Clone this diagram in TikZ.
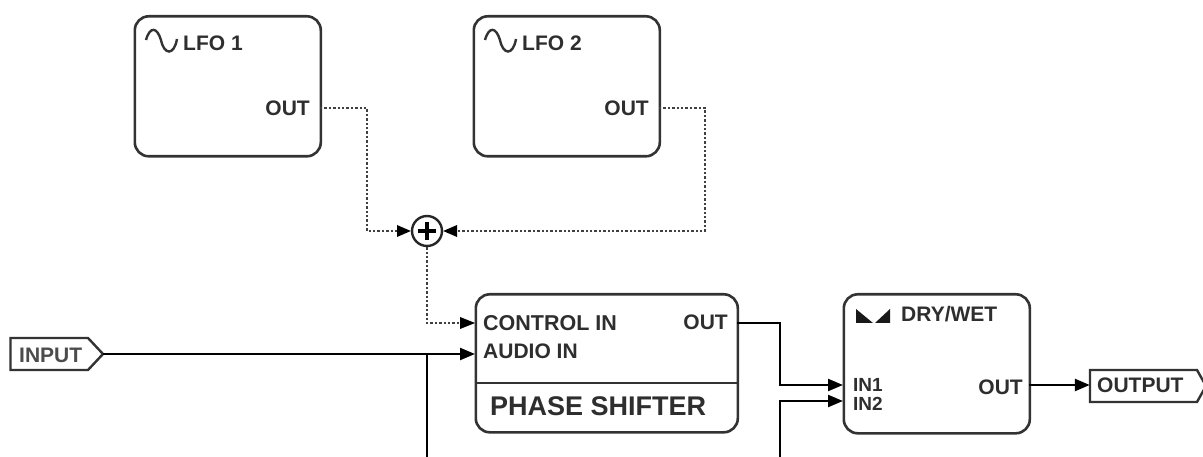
\documentclass[tikz,border=0pt]{standalone}
\usepackage{fontspec}
\setmainfont{Liberation Sans}
\usetikzlibrary{arrows.meta}
\tikzset{
  x=1pt,y=-1pt,
  blockbox/.style={draw=black!80,line width=2.6pt,rounded corners=14pt,fill=white,inner sep=0pt,anchor=north west},
  lbl/.style={font=\bfseries\fontsize{21}{21}\selectfont,text=black!82,inner sep=0pt},
  small/.style={font=\bfseries\fontsize{19}{19}\selectfont,text=black!82,inner sep=0pt},
  sig/.style={line width=2.4pt,black},
  ctl/.style={line width=2.6pt,black!75,dash pattern=on 2.4pt off 2pt},
  tip/.style={-{Triangle[length=15pt,width=12pt,fill=black]}},
  anchorpt/.style={inner sep=0pt,minimum size=0pt},
}
\begin{document}
\begin{tikzpicture}
\useasboundingbox (0,0) rectangle (1203,457);
% blocks
\node[blockbox,minimum width=186pt,minimum height=140pt] (lfoa) at (133.5,15) {};
\node[blockbox,minimum width=186pt,minimum height=140pt] (lfob) at (472.5,15) {};
\node[blockbox,minimum width=262pt,minimum height=138pt] (ps) at (474.5,293) {};
\node[blockbox,minimum width=186pt,minimum height=139pt] (dw) at (842.5,293) {};
% divider
\coordinate (psl) at (475,383);
\coordinate (psr) at (737,383);
\draw[line width=2.4pt,black!80] (psl) -- (psr);
% port coordinates
\coordinate (la) at (320,108);
\coordinate (lb) at (659,108);
\coordinate (ctlin) at (475,323);
\coordinate (audin) at (475,354);
\coordinate (psout) at (737,323);
\coordinate (inone) at (843,385);
\coordinate (intwo) at (843,401);
\coordinate (dwout) at (1029,385);
\coordinate (bota) at (427,457);
\coordinate (botb) at (780,457);
\coordinate (tap) at (427,354);
% ports
\node[draw=black!85,line width=2.4pt,circle,minimum size=30pt,inner sep=0pt] (sum) at (427,231) {};
\draw[line width=3.4pt,black] (418,231) -- (436,231) (427,222) -- (427,240);
\draw[line width=2.4pt,black!80] (10.5,338) -- (88,338) -- (103,354) -- (88,370) -- (10.5,370) -- cycle;
\node[anchorpt] (inp) at (103,354) {};
\draw[line width=2.4pt,black!80] (1197,370) -- (1090,370) -- (1090,402) -- (1197,402) -- (1206,386) -- cycle;
\node[anchorpt] (outp) at (1090,385) {};
% text
\node[lbl,anchor=west] (t1) at (183,43) {LFO 1};
\node[lbl,anchor=west] (t2) at (522,43) {LFO 2};
\node[lbl,anchor=east] (o1) at (310,108) {OUT};
\node[lbl,anchor=east] (o2) at (649,108) {OUT};
\node[lbl,anchor=west,font=\bfseries\fontsize{21.5}{21.5}\selectfont] at (483,323) {CONTROL IN};
\node[lbl,anchor=west] at (483,351) {AUDIO IN};
\node[lbl,anchor=east] at (728,322) {OUT};
\node[font=\bfseries\fontsize{27}{27}\selectfont,text=black!82,inner sep=0pt,anchor=west] at (490,406) {PHASE SHIFTER};
\node[lbl,anchor=west] at (901,314) {DRY/WET};
\node[small,anchor=west] at (853,385) {IN1};
\node[small,anchor=west] at (853,404) {IN2};
\node[lbl,anchor=east] at (1023,387) {OUT};
\node[lbl,anchor=west,text=black!70] at (19,355) {INPUT};
\node[lbl,anchor=west] at (1097,385) {OUTPUT};
% icons
\draw[line width=2.4pt,black!80] (146,40) .. controls (150,26) and (157,27) .. (161,40) .. controls (164,55) and (174,56) .. (177,39);
\draw[line width=2.4pt,black!80] (485,40) .. controls (489,26) and (496,27) .. (500,40) .. controls (503,55) and (513,56) .. (516,39);
\fill[black!90] (856,309) -- (873,323) -- (856,323) -- cycle;
\fill[black!90] (890,309) -- (875,323) -- (890,323) -- cycle;
% connectors
\draw[ctl] (la) -- (367,108) -- (367,231) -- (400,231);
\draw[ctl] (lb) -- (705,108) -- (705,231) -- (454,231);
\path[fill=black] (sum.west) -- (397,225) -- (397,237) -- cycle;
\path[fill=black] (sum.east) -- (457,225) -- (457,237) -- cycle;
\draw[ctl] (sum.south) -- (427,323) -- (460,323);
\path[fill=black] (ctlin) -- (460,317) -- (460,329) -- cycle;
\draw[sig,tip] (inp) -- (audin);
\draw[sig] (tap) -- (bota);
\draw[sig,tip] (psout) -- (780,323) -- (780,385) -- (inone);
\draw[sig,tip] (botb) -- (780,401) -- (intwo);
\draw[sig,tip] (dwout) -- (outp);
\end{tikzpicture}
\end{document}
